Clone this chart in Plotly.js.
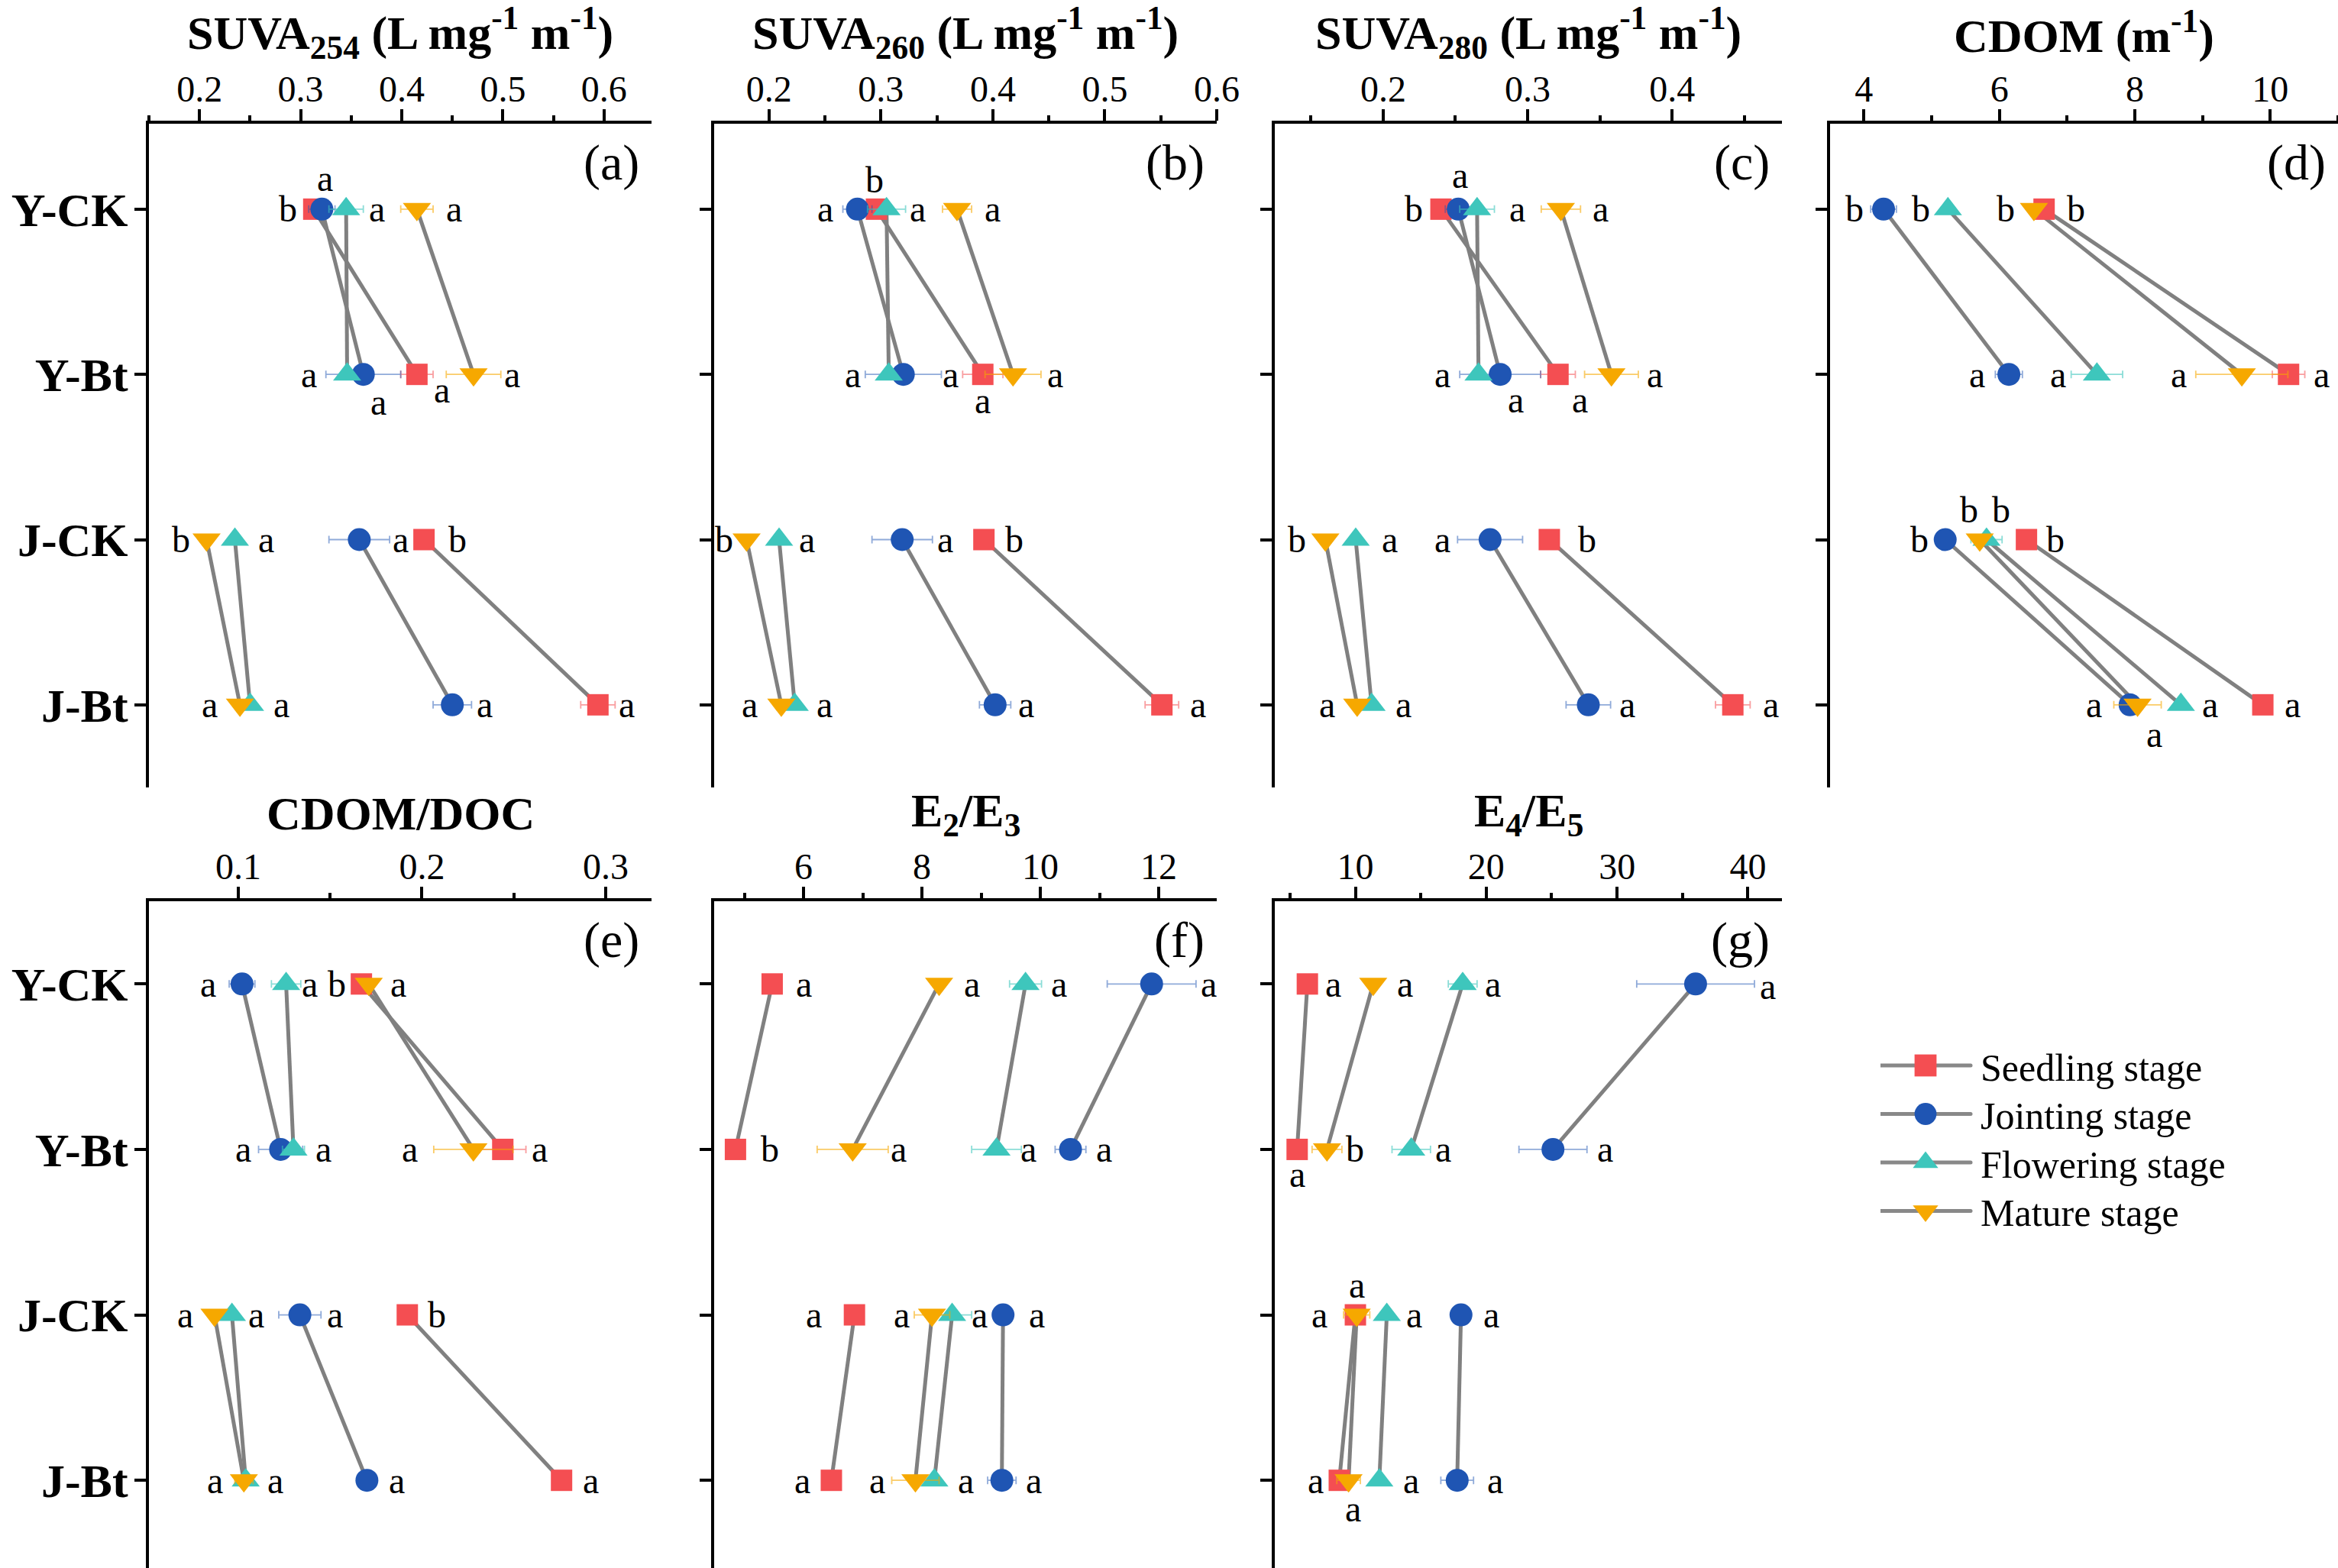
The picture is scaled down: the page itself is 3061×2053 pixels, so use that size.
<!DOCTYPE html>
<html><head><meta charset="utf-8">
<script src="https://cdn.plot.ly/plotly-3.0.1.min.js"></script>
<style>html,body{margin:0;padding:0;background:#fff}#chart{width:3061px;height:2053px}</style>
</head><body><div id="chart"></div>
<script>
// ---------- DATA ----------
const categories = ['Y-CK', 'Y-Bt', 'J-CK', 'J-Bt'];
const stages = ['Seedling stage', 'Jointing stage', 'Flowering stage', 'Mature stage'];

// (a) SUVA254
const suva254_seedling = [0.313, 0.415, 0.422, 0.594];
const suva254_jointing = [0.321, 0.362, 0.358, 0.450];
const suva254_flowering = [0.345, 0.346, 0.235, 0.250];
const suva254_mature = [0.415, 0.471, 0.207, 0.240];
const suva254_err_seedling = [0.004, 0.016, 0.004, 0.017];
const suva254_err_jointing = [0.013, 0.037, 0.030, 0.019];
const suva254_err_flowering = [0.017, 0.005, 0.004, 0.004];
const suva254_err_mature = [0.016, 0.027, 0.004, 0.004];
const suva254_let_seedling = ['b', 'a', 'b', 'a'];
const suva254_let_jointing = ['a', 'a', 'a', 'a'];
const suva254_let_flowering = ['a', 'a', 'a', 'a'];
const suva254_let_mature = ['a', 'a', 'b', 'a'];

// (b) SUVA260
const suva260_seedling = [0.296, 0.391, 0.392, 0.551];
const suva260_jointing = [0.279, 0.320, 0.319, 0.402];
const suva260_flowering = [0.305, 0.307, 0.209, 0.223];
const suva260_mature = [0.368, 0.418, 0.180, 0.211];
const suva260_err_seedling = [0.004, 0.018, 0.004, 0.015];
const suva260_err_jointing = [0.013, 0.034, 0.027, 0.014];
const suva260_err_flowering = [0.017, 0.005, 0.004, 0.004];
const suva260_err_mature = [0.013, 0.025, 0.004, 0.004];
const suva260_let_seedling = ['b', 'a', 'b', 'a'];
const suva260_let_jointing = ['a', 'a', 'a', 'a'];
const suva260_let_flowering = ['a', 'a', 'a', 'a'];
const suva260_let_mature = ['a', 'a', 'b', 'a'];

// (c) SUVA280
const suva280_seedling = [0.240, 0.321, 0.315, 0.442];
const suva280_jointing = [0.252, 0.281, 0.274, 0.342];
const suva280_flowering = [0.265, 0.266, 0.181, 0.192];
const suva280_mature = [0.323, 0.358, 0.160, 0.182];
const suva280_err_seedling = [0.004, 0.012, 0.004, 0.012];
const suva280_err_jointing = [0.009, 0.028, 0.0225, 0.0154];
const suva280_err_flowering = [0.012, 0.004, 0.003, 0.003];
const suva280_err_mature = [0.0136, 0.0186, 0.003, 0.003];
const suva280_let_seedling = ['b', 'a', 'b', 'a'];
const suva280_let_jointing = ['a', 'a', 'a', 'a'];
const suva280_let_flowering = ['a', 'a', 'a', 'a'];
const suva280_let_mature = ['a', 'a', 'b', 'a'];

// (d) CDOM
const cdom_seedling = [6.66, 10.27, 6.40, 9.89];
const cdom_jointing = [4.29, 6.14, 5.20, 7.93];
const cdom_flowering = [5.24, 7.44, 5.81, 8.68];
const cdom_mature = [6.51, 9.58, 5.71, 8.04];
const cdom_err_seedling = [0.08, 0.24, 0.05, 0.05];
const cdom_err_jointing = [0.19, 0.20, 0.05, 0.05];
const cdom_err_flowering = [0.05, 0.38, 0.23, 0.05];
const cdom_err_mature = [0.05, 0.68, 0.05, 0.35];
const cdom_let_seedling = ['b', 'a', 'b', 'a'];
const cdom_let_jointing = ['b', 'a', 'b', 'a'];
const cdom_let_flowering = ['b', 'a', 'b', 'a'];
const cdom_let_mature = ['b', 'a', 'b', 'a'];

// (e) CDOM/DOC
const cdomdoc_seedling = [0.167, 0.244, 0.192, 0.276];
const cdomdoc_jointing = [0.102, 0.123, 0.1335, 0.170];
const cdomdoc_flowering = [0.126, 0.130, 0.0965, 0.104];
const cdomdoc_mature = [0.171, 0.228, 0.087, 0.103];
const cdomdoc_err_seedling = [0.002, 0.0126, 0.002, 0.002];
const cdomdoc_err_jointing = [0.007, 0.012, 0.0115, 0.003];
const cdomdoc_err_flowering = [0.008, 0.006, 0.002, 0.002];
const cdomdoc_err_mature = [0.003, 0.0216, 0.002, 0.005];
const cdomdoc_let_seedling = ['b', 'a', 'b', 'a'];
const cdomdoc_let_jointing = ['a', 'a', 'a', 'a'];
const cdomdoc_let_flowering = ['a', 'a', 'a', 'a'];
const cdomdoc_let_mature = ['a', 'a', 'a', 'a'];

// (f) E2/E3
const e2e3_seedling = [5.47, 4.85, 6.86, 6.47];
const e2e3_jointing = [11.88, 10.51, 9.37, 9.35];
const e2e3_flowering = [9.75, 9.26, 8.51, 8.21];
const e2e3_mature = [8.29, 6.83, 8.17, 7.89];
const e2e3_err_seedling = [0.05, 0.05, 0.05, 0.05];
const e2e3_err_jointing = [0.75, 0.26, 0.05, 0.24];
const e2e3_err_flowering = [0.27, 0.42, 0.33, 0.05];
const e2e3_err_mature = [0.10, 0.60, 0.30, 0.40];
const e2e3_let_seedling = ['a', 'b', 'a', 'a'];
const e2e3_let_jointing = ['a', 'a', 'a', 'a'];
const e2e3_let_flowering = ['a', 'a', 'a', 'a'];
const e2e3_let_mature = ['a', 'a', 'a', 'a'];

// (g) E4/E5
const e4e5_seedling = [6.33, 5.55, 10.0, 8.77];
const e4e5_jointing = [36.0, 25.1, 18.07, 17.78];
const e4e5_flowering = [18.2, 14.27, 12.4, 11.83];
const e4e5_mature = [11.36, 7.83, 10.1, 9.48];
const e4e5_err_seedling = [0.2, 0.2, 0.2, 0.2];
const e4e5_err_jointing = [4.5, 2.6, 0.3, 1.25];
const e4e5_err_flowering = [1.1, 1.47, 0.2, 0.2];
const e4e5_err_mature = [0.2, 1.14, 1.0, 0.9];
const e4e5_let_seedling = ['a', 'a', 'a', 'a'];
const e4e5_let_jointing = ['a', 'a', 'a', 'a'];
const e4e5_let_flowering = ['a', 'a', 'a', 'a'];
const e4e5_let_mature = ['a', 'b', 'a', 'a'];

// ---------- STYLE / PLACEMENT (not data) ----------
const W = 3061, H = 2053;
const FONT = "'Liberation Serif', 'DejaVu Serif', 'Times New Roman', serif";
const stageStyle = [
  {symbol: 'square', size: 28, color: '#F44E52', err: 'rgba(244,78,82,0.55)'},
  {symbol: 'circle', size: 30, color: '#1F55B3', err: 'rgba(31,85,179,0.5)'},
  {symbol: 'triangle-up', size: 32, color: '#3EC6BC', err: 'rgba(62,198,188,0.6)'},
  {symbol: 'triangle-down', size: 32, color: '#F6A800', err: 'rgba(246,168,0,0.6)'}
];
const colsPx = [[195, 853], [935, 1593], [1669, 2333], [2396, 3061]];
const rowsPx = [[162, 1031], [1180, 2053]];
const rowYRange = [[3.5, -0.517], [3.53, -0.5]];
const rowTitleY = [43, 1065];

// letter offsets [dx, dy] in px (dy up), per stage S, J, F, M, per category
const panels = [
  {tag: '(a)', col: 0, row: 0, title: 'SUVA<sub>254</sub> (L mg<sup>-1</sup> m<sup>-1</sup>)', range: [0.15, 0.647], dtick: 0.1, minor: 0.05,
   vals: [suva254_seedling, suva254_jointing, suva254_flowering, suva254_mature],
   errs: [suva254_err_seedling, suva254_err_jointing, suva254_err_flowering, suva254_err_mature],
   lets: [suva254_let_seedling, suva254_let_jointing, suva254_let_flowering, suva254_let_mature],
   off: [[[-34,0],[33,-20],[44,0],[38,0]], [[4,40],[20,-36],[54,0],[42,0]], [[40,0],[-50,0],[41,0],[41,0]], [[49,0],[51,0],[-33,0],[-40,0]]]},
  {tag: '(b)', col: 1, row: 0, title: 'SUVA<sub>260</sub> (L mg<sup>-1</sup> m<sup>-1</sup>)', range: [0.151, 0.6], dtick: 0.1, minor: 0.05,
   vals: [suva260_seedling, suva260_jointing, suva260_flowering, suva260_mature],
   errs: [suva260_err_seedling, suva260_err_jointing, suva260_err_flowering, suva260_err_mature],
   lets: [suva260_let_seedling, suva260_let_jointing, suva260_let_flowering, suva260_let_mature],
   off: [[[-2,38],[0,-34],[40,0],[47,0]], [[-42,0],[62,0],[56,0],[41,0]], [[41,0],[-47,0],[36,0],[39,0]], [[46,0],[55,0],[-30,0],[-41,0]]]},
  {tag: '(c)', col: 2, row: 0, title: 'SUVA<sub>280</sub> (L mg<sup>-1</sup> m<sup>-1</sup>)', range: [0.125, 0.476], dtick: 0.1, minor: 0.05,
   vals: [suva280_seedling, suva280_jointing, suva280_flowering, suva280_mature],
   errs: [suva280_err_seedling, suva280_err_jointing, suva280_err_flowering, suva280_err_mature],
   lets: [suva280_let_seedling, suva280_let_jointing, suva280_let_flowering, suva280_let_mature],
   off: [[[-36,0],[29,-33],[50,0],[50,0]], [[2,44],[20,-33],[-62,0],[51,0]], [[53,0],[-47,0],[45,0],[42,0]], [[52,0],[57,0],[-37,0],[-39,0]]]},
  {tag: '(d)', col: 3, row: 0, title: 'CDOM (m<sup>-1</sup>)', range: [3.5, 11.0], dtick: 2, minor: 1,
   vals: [cdom_seedling, cdom_jointing, cdom_flowering, cdom_mature],
   errs: [cdom_err_seedling, cdom_err_jointing, cdom_err_flowering, cdom_err_mature],
   lets: [cdom_let_seedling, cdom_let_jointing, cdom_let_flowering, cdom_let_mature],
   off: [[[42,0],[43,0],[38,0],[39,0]], [[-38,0],[-42,0],[-34,0],[-47,0]], [[-35,0],[-51,0],[19,39],[38,0]], [[-37,0],[-83,0],[-14,39],[22,-39]]]},
  {tag: '(e)', col: 0, row: 1, title: 'CDOM/DOC', range: [0.0513, 0.325], dtick: 0.1, minor: 0.05,
   vals: [cdomdoc_seedling, cdomdoc_jointing, cdomdoc_flowering, cdomdoc_mature],
   errs: [cdomdoc_err_seedling, cdomdoc_err_jointing, cdomdoc_err_flowering, cdomdoc_err_mature],
   lets: [cdomdoc_let_seedling, cdomdoc_let_jointing, cdomdoc_let_flowering, cdomdoc_let_mature],
   off: [[[-32,0],[48,0],[39,0],[38,0]], [[-44,0],[-49,0],[46,0],[39,0]], [[31,0],[39,0],[32,0],[39,0]], [[39,0],[-83,0],[-38,0],[-38,0]]]},
  {tag: '(f)', col: 1, row: 1, title: 'E<sub>2</sub>/E<sub>3</sub>', range: [4.49, 12.98], dtick: 2, minor: 1,
   vals: [e2e3_seedling, e2e3_jointing, e2e3_flowering, e2e3_mature],
   errs: [e2e3_err_seedling, e2e3_err_jointing, e2e3_err_flowering, e2e3_err_mature],
   lets: [e2e3_let_seedling, e2e3_let_jointing, e2e3_let_flowering, e2e3_let_mature],
   off: [[[42,0],[45,0],[-53,0],[-38,0]], [[75,0],[44,0],[44,0],[42,0]], [[44,0],[42,0],[36,0],[41,0]], [[43,0],[60,0],[-40,0],[-50,0]]]},
  {tag: '(g)', col: 2, row: 1, title: 'E<sub>4</sub>/E<sub>5</sub>', range: [3.84, 42.6], dtick: 10, minor: 5,
   vals: [e4e5_seedling, e4e5_jointing, e4e5_flowering, e4e5_mature],
   errs: [e4e5_err_seedling, e4e5_err_jointing, e4e5_err_flowering, e4e5_err_mature],
   lets: [e4e5_let_seedling, e4e5_let_jointing, e4e5_let_flowering, e4e5_let_mature],
   off: [[[34,0],[0,-33],[-47,0],[-31,0]], [[95,-3],[68,0],[40,0],[50,0]], [[39,0],[42,0],[36,0],[42,0]], [[42,0],[37,0],[0,39],[6,-37]]]}
];

const traces = [];
const layout = {
  width: W, height: H, margin: {l: 0, r: 0, t: 0, b: 0},
  paper_bgcolor: '#ffffff', plot_bgcolor: 'rgba(0,0,0,0)',
  font: {family: FONT, color: '#000'},
  showlegend: true,
  legend: {x: 2462 / W, y: 1 - 1356 / H, xanchor: 'left', yanchor: 'top',
           font: {family: FONT, size: 50, color: '#000'}, bgcolor: 'rgba(0,0,0,0)',
           itemwidth: 121, tracegroupgap: 0},
  annotations: []
};

panels.forEach((p, k) => {
  const i = k + 1;
  const xa = 'x' + (i === 1 ? '' : i), ya = 'y' + (i === 1 ? '' : i);
  const xKey = 'xaxis' + (i === 1 ? '' : i), yKey = 'yaxis' + (i === 1 ? '' : i);
  const cx = colsPx[p.col], ry = rowsPx[p.row];
  layout[xKey] = {
    domain: [cx[0] / W, cx[1] / W], anchor: ya, side: 'top', range: p.range,
    tick0: 0, dtick: p.dtick, showline: true, linewidth: 4, linecolor: '#000',
    ticks: 'outside', ticklen: 15, tickwidth: 4, tickcolor: '#000', ticklabelstandoff: -9,
    minor: {dtick: p.minor, ticks: 'outside', ticklen: 7, tickwidth: 4, tickcolor: '#000', showgrid: false},
    showgrid: false, zeroline: false, fixedrange: true,
    tickfont: {family: FONT, size: 48, color: '#000'}
  };
  layout[yKey] = {
    domain: [1 - ry[1] / H, 1 - ry[0] / H], anchor: xa, type: 'category',
    categoryorder: 'array', categoryarray: categories, range: rowYRange[p.row],
    showline: true, linewidth: 4, linecolor: '#000', ticks: 'outside', ticklen: 15,
    tickwidth: 4, tickcolor: '#000', showgrid: false, zeroline: false, fixedrange: true,
    showticklabels: p.col === 0, ticklabelstandoff: -4,
    tickfont: {family: FONT, size: 62, color: '#000', weight: 'bold'}
  };
  // connecting lines (CK -> Bt within each soil)
  p.vals.forEach((v) => {
    traces.push({
      x: [v[0], v[1], null, v[2], v[3]],
      y: [categories[0], categories[1], categories[1], categories[2], categories[3]],
      xaxis: xa, yaxis: ya, mode: 'lines', line: {color: '#808080', width: 5},
      showlegend: false, hoverinfo: 'skip', connectgaps: false
    });
  });
  // markers with error bars
  p.vals.forEach((v, s) => {
    const st = stageStyle[s];
    traces.push({
      x: v, y: categories, xaxis: xa, yaxis: ya, mode: 'markers', name: stages[s],
      marker: {symbol: st.symbol, size: st.size, color: st.color, line: {width: 0}},
      error_x: {type: 'data', array: p.errs[s], visible: true, color: st.err, thickness: 1.8, width: 5},
      showlegend: false
    });
    v.forEach((val, j) => {
      const sh = p.off[s][j];
      layout.annotations.push({
        xref: xa, yref: ya, x: val, y: j, text: p.lets[s][j], showarrow: false,
        xshift: sh[0], yshift: sh[1], font: {family: FONT, size: 48, color: '#000'}
      });
    });
  });
  // panel title
  layout.annotations.push({
    xref: xa + ' domain', yref: 'paper', x: 0.5, y: 1 - rowTitleY[p.row] / H,
    xanchor: 'center', yanchor: 'middle', showarrow: false, text: p.title,
    font: {family: FONT, size: 62, color: '#000', weight: 'bold'}
  });
  // panel tag
  layout.annotations.push({
    xref: xa + ' domain', yref: ya + ' domain', x: 1, y: 1, xshift: -14, yshift: -51,
    xanchor: 'right', yanchor: 'middle', showarrow: false, text: p.tag,
    font: {family: FONT, size: 66, color: '#000'}
  });
});

// legend entries
stages.forEach((name, s) => {
  const st = stageStyle[s];
  traces.push({
    x: [null], y: [null], xaxis: 'x', yaxis: 'y', mode: 'lines+markers', name: name,
    line: {color: '#888888', width: 5},
    marker: {symbol: st.symbol, size: st.size, color: st.color, line: {width: 0}},
    showlegend: true, hoverinfo: 'skip'
  });
});

Plotly.newPlot('chart', traces, layout, {displayModeBar: false, staticPlot: true}).then(() => {
  // enlarge legend samples and tighten row pitch to match the figure's legend
  let y0 = null;
  document.querySelectorAll('.legend .traces').forEach((g, idx) => {
    const m = /translate\(\s*([-\d.e]+)[ ,]+([-\d.e]+)\s*\)/.exec(g.getAttribute('transform') || '');
    if (m) {
      const x = +m[1], y = +m[2];
      if (y0 === null) y0 = y;
      g.setAttribute('transform', 'translate(' + x + ',' + (y0 + idx * 63.5) + ')');
    }
    g.querySelectorAll('.legendlines path').forEach(p => {
      p.setAttribute('d', 'M0,0h118');
      p.style.strokeLinecap = 'round';
    });
    g.querySelectorAll('.legendpoints path').forEach(p => {
      p.setAttribute('transform', 'translate(59,0) scale(1.8)');
    });
  });
});
</script>
</body></html>
